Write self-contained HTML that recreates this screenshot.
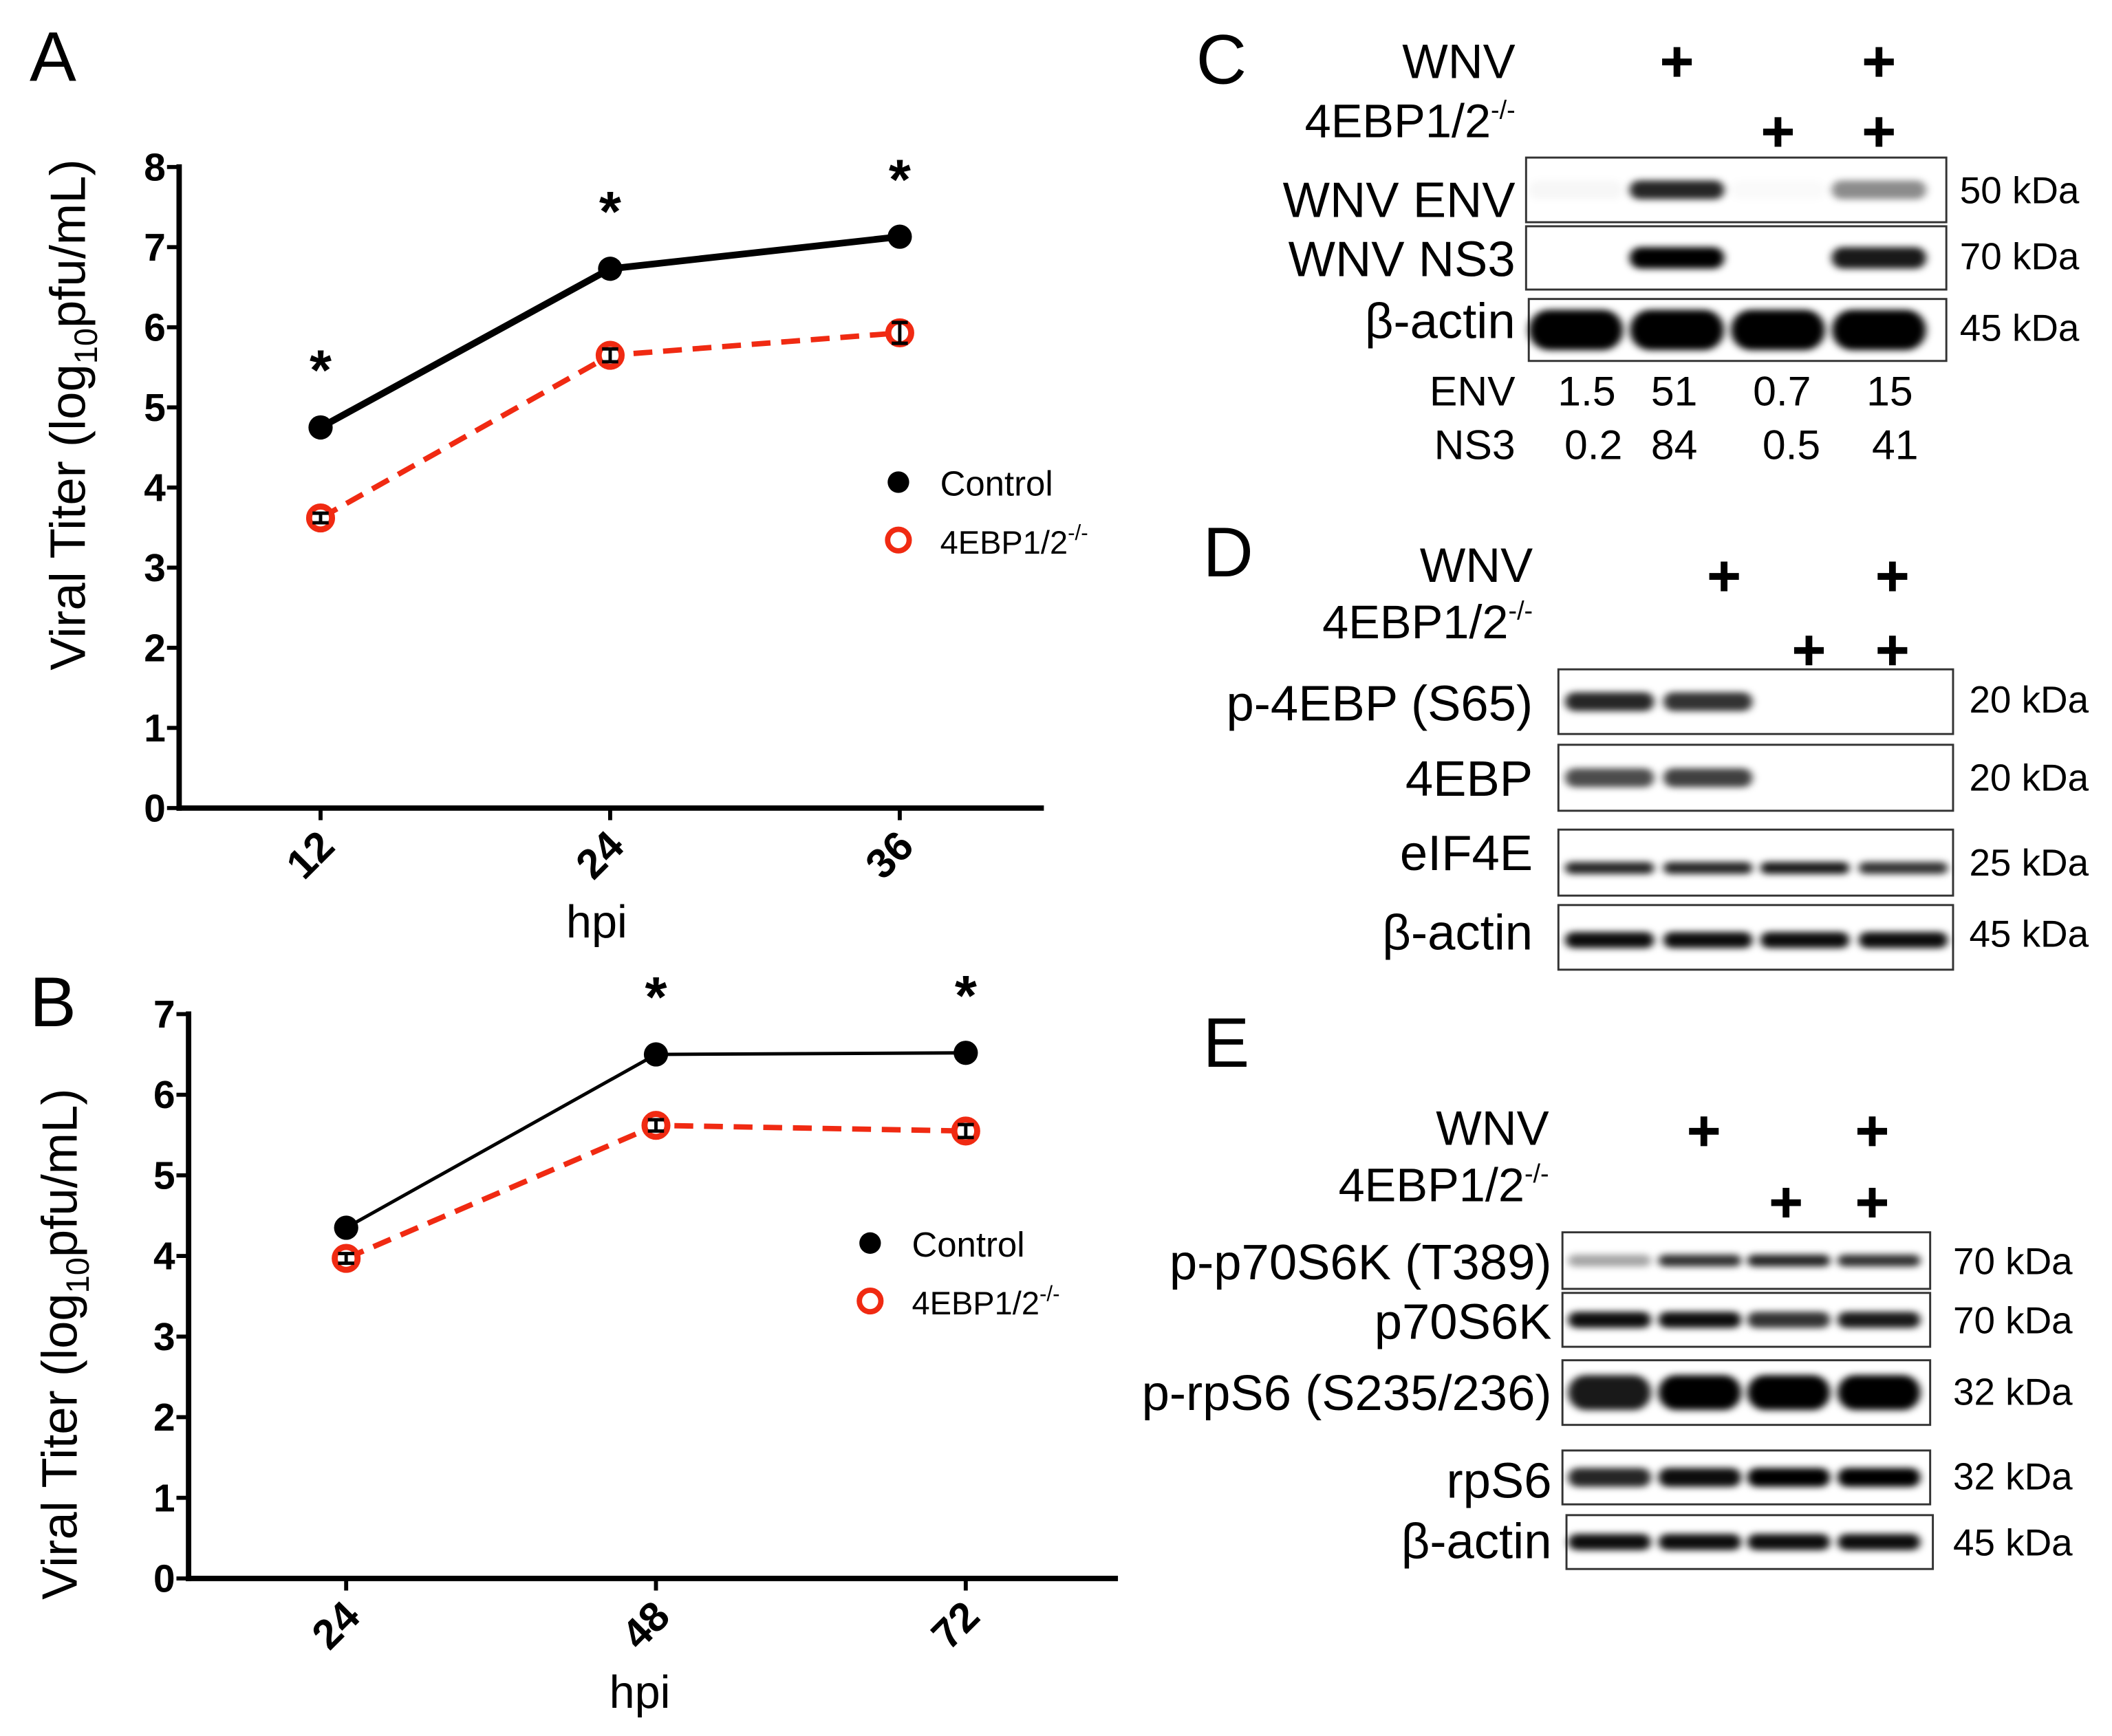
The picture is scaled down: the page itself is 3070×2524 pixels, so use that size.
<!DOCTYPE html>
<html><head><meta charset="utf-8"><style>
html,body{margin:0;padding:0;background:#fff}
svg{display:block}
text{font-family:"Liberation Sans",Arial,sans-serif}
</style></head><body>
<svg id="fig" width="3070" height="2524" viewBox="0 0 1568 1289" preserveAspectRatio="none" xmlns="http://www.w3.org/2000/svg">
<defs>
<filter id="blur" x="-20%" y="-100%" width="140%" height="300%"><feGaussianBlur stdDeviation="3 2.5"/></filter>
</defs>
<rect width="1568" height="1289" fill="#fff"/>
<g id="panelA"></g>
<g id="panelB"></g>
<g id="blots"></g>
</svg>
<script>
const NS="http://www.w3.org/2000/svg";
function mk(tag,attrs,parent,txt){const e=document.createElementNS(NS,tag);for(const k in attrs)e.setAttribute(k,attrs[k]);if(txt!==undefined)e.textContent=txt;parent.appendChild(e);return e;}

// ---- Panel A data ----
const aCategories=["12","24","36"];
const aControl=[4.75,6.73,7.13];
const aControlErr=[0.08,0.08,0.07];
const aKO=[3.62,5.65,5.93];
const aKOErr=[0.06,0.08,0.13];
const aTicks=[0,1,2,3,4,5,6,7,8];
const aSig=[true,true,true];
// ---- Panel B data ----
const bCategories=["24","48","72"];
const bControl=[4.35,6.5,6.52];
const bControlErr=[0.08,0.09,0.04];
const bKO=[3.97,5.62,5.55];
const bKOErr=[0.06,0.07,0.08];
const bTicks=[0,1,2,3,4,5,6,7];
const bSig=[false,true,true];

function chart(g,cfg){
  const ys=v=>cfg.y0-(v-0)*(cfg.y0-cfg.yTop)/cfg.yMax;
  const xs=i=>cfg.xFirst+i*cfg.xStep;
  let l=mk('line',{x1:cfg.axX,y1:cfg.yTop-2,x2:cfg.axX,y2:cfg.y0+2,stroke:'#000','stroke-width':4},g);
  
  l=mk('line',{x1:cfg.axX-2,y1:cfg.y0,x2:cfg.xEnd,y2:cfg.y0,stroke:'#000','stroke-width':4},g);
  
  cfg.ticks.forEach(t=>{
    mk('line',{x1:cfg.axX-9,y1:ys(t),x2:cfg.axX,y2:ys(t),stroke:'#000','stroke-width':3},g);
    const tl=mk('text',{x:cfg.axX-10,y:ys(t)+10,'text-anchor':'end','font-size':29,'font-weight':'bold'},g,String(t));
    
  });
  cfg.cats.forEach((c,i)=>{
    mk('line',{x1:xs(i),y1:cfg.y0,x2:xs(i),y2:cfg.y0+9,stroke:'#000','stroke-width':3},g);
    const tl=mk('text',{x:xs(i)+12,y:cfg.y0+30,'text-anchor':'end','font-size':31,'font-weight':'bold',transform:`rotate(-45 ${xs(i)+12} ${cfg.y0+30})`},g,c);
    
  });
  const ht=mk('text',{x:cfg.hpiX,y:cfg.y0+96,'text-anchor':'middle','font-size':34},g,'hpi');
  
  const yt=mk('text',{x:0,y:0,'text-anchor':'middle','font-size':37,transform:`translate(${cfg.titleX},${cfg.titleY}) rotate(-90)`},g);
  
  mk('tspan',{},yt,'Viral Titer (log');mk('tspan',{'font-size':24,dy:9},yt,'10');mk('tspan',{dy:-9},yt,'pfu/mL)');
  function series(vals,errs,color,dash,width,filled,name){
    const pts=vals.map((v,i)=>`${xs(i)},${ys(v)}`).join(' ');
    const pl=mk('polyline',{points:pts,fill:'none',stroke:color,'stroke-width':width,'stroke-dasharray':dash},g);
    
    vals.forEach((v,i)=>{
      const c=filled?mk('circle',{cx:xs(i),cy:ys(v),r:9,fill:color},g):mk('circle',{cx:xs(i),cy:ys(v),r:8.5,fill:'#fff',stroke:color,'stroke-width':4.5},g);
      
      const e=errs[i],x=xs(i);
      mk('path',{d:`M${x},${ys(v+e)}V${ys(v-e)}M${x-6},${ys(v+e)}h12M${x-6},${ys(v-e)}h12`,stroke:'#000','stroke-width':2.5,fill:'none'},g);
    });
  }
  series(cfg.ctrl,cfg.ctrlErr,'#000','none',cfg.ctrlW,true,'control');
  series(cfg.ko,cfg.koErr,'#f02a12','14 8',4,false,'knockout');
  cfg.sig.forEach((s,i)=>{ if(!s)return;
    const st=mk('text',{x:xs(i),y:ys(Math.max(cfg.ctrl[i],cfg.ko[i]))-28,'text-anchor':'middle','font-size':42,'font-weight':'bold'},g,'*');
    
  });
  let le=mk('g',{},g);
  mk('circle',{cx:cfg.legX,cy:cfg.legY,r:8,fill:'#000'},le);
  mk('text',{x:cfg.legX+31,y:cfg.legY+10,'font-size':26},le,'Control');
  le=mk('g',{},g);
  mk('circle',{cx:cfg.legX,cy:cfg.legY+43,r:8,fill:'#fff',stroke:'#f02a12','stroke-width':4},le);
  const lt=mk('text',{x:cfg.legX+31,y:cfg.legY+53,'font-size':24},le,'4EBP1/2');
  mk('tspan',{'font-size':16,dy:-10},lt,'-/-');
}
const A=document.getElementById('panelA'),B=document.getElementById('panelB');
let t=mk('text',{x:22,y:60,'font-size':52},A,'A');
chart(A,{axX:133,y0:600,yTop:124,yMax:8,xFirst:238,xStep:215,xEnd:775,ticks:aTicks,cats:aCategories,ctrl:aControl,ctrlErr:aControlErr,ko:aKO,koErr:aKOErr,sig:aSig,ctrlW:5,legX:667,legY:358,hpiX:443,titleX:63,titleY:308});
t=mk('text',{x:22,y:762,'font-size':52},B,'B');
chart(B,{axX:140,y0:1172,yTop:753,yMax:7,xFirst:257,xStep:230,xEnd:830,ticks:bTicks,cats:bCategories,ctrl:bControl,ctrlErr:bControlErr,ko:bKO,koErr:bKOErr,sig:bSig,ctrlW:2.5,legX:646,legY:923,hpiX:475,titleX:57,titleY:998});

// ---- Blots ----
const BL=document.getElementById('blots');
function txt(x,y,s,size,anchor,name,sup){const e=mk('text',{x:x,y:y,'font-size':size,'text-anchor':anchor||'start'},BL,s);if(sup){mk('tspan',{'font-size':size*0.55,dy:-size*0.4},e,sup);}return e;}
function plus(x,y,name){const e=mk('path',{d:`M${x-11},${y}h22M${x},${y-11}v22`,stroke:'#000','stroke-width':5},BL);}
function blot(x1,x2,y1,y2,lanes,intens,thick,name,extra){
  const g=mk('g',{},BL);
  mk('rect',{x:x1,y:y1,width:x2-x1,height:y2-y1,fill:'#fff',stroke:'#333','stroke-width':1.5},g);
  const cy=(y1+y2)/2+(extra||0);const lw=(x2-x1)/4;
  intens.forEach((v,i)=>{ if(v<=0)return;
    mk('rect',{x:lanes[i]-lw*0.45,y:cy-thick/2,width:lw*0.9,height:thick,rx:thick/2,fill:'#000','fill-opacity':v,filter:'url(#blur)'},g);
  });
}
// C
txt(888,62,'C',52,'start','panel-label-c');
txt(1125,58,'WNV',36,'end','wnv-row-label');
txt(1125,102,'4EBP1/2',35,'end','knockout-row-label','-/-');
[1245,1395].forEach(x=>plus(x,46,'wnv-plus'));[1320,1395].forEach(x=>plus(x,98,'knockout-plus'));
const cLanes=[1170,1245,1320,1395];
const cEnv=[0.03,0.85,0.02,0.45],cNs3=[0,1,0,0.9],cAct=[1,1,1,1];
blot(1133,1445,117,165,cLanes,cEnv,14,'blot-wnv-env');
blot(1133,1445,168,215,cLanes,cNs3,16,'blot-wnv-ns3');
blot(1135,1445,222,268,cLanes,cAct,30,'blot-c-actin');
txt(1125,161,'WNV ENV',37,'end','label-wnv-env');txt(1125,205,'WNV NS3',37,'end','label-wnv-ns3');txt(1125,251,'β-actin',37,'end','label-c-actin');
txt(1455,151,'50 kDa',28,'start','kda');txt(1455,200,'70 kDa',28,'start','kda');txt(1455,253,'45 kDa',28,'start','kda');
const envVals=['1.5','51','0.7','15'],ns3Vals=['0.2','84','0.5','41'];
txt(1125,301,'ENV',31,'end','quant-env-label');txt(1125,341,'NS3',31,'end','quant-ns3-label');
[1178,1243,1323,1403].forEach((x,i)=>txt(x,301,envVals[i],31,'middle','quant-env-value'));
[1183,1243,1330,1407].forEach((x,i)=>txt(x,341,ns3Vals[i],31,'middle','quant-ns3-value'));
// D
txt(893,428,'D',52,'start','panel-label-d');
txt(1138,432,'WNV',36,'end','wnv-row-label');
txt(1138,474,'4EBP1/2',35,'end','knockout-row-label','-/-');
[1280,1405].forEach(x=>plus(x,428,'wnv-plus'));[1343,1405].forEach(x=>plus(x,483,'knockout-plus'));
const dLanes=[1195,1268,1340,1413];
blot(1157,1450,497,545,dLanes,[0.85,0.8,0,0],14,'blot-p-4ebp');
blot(1157,1450,553,602,dLanes,[0.7,0.75,0,0],14,'blot-4ebp');
blot(1157,1450,616,665,dLanes,[0.85,0.85,0.9,0.8],9,'blot-eif4e',4);
blot(1157,1450,672,720,dLanes,[0.95,0.95,0.95,0.95],12,'blot-d-actin',2);
txt(1138,535,'p-4EBP (S65)',37,'end','label-p-4ebp');txt(1138,591,'4EBP',37,'end','label-4ebp');txt(1138,646,'eIF4E',37,'end','label-eif4e');txt(1138,705,'β-actin',37,'end','label-d-actin');
[[529,'20 kDa'],[587,'20 kDa'],[650,'25 kDa'],[703,'45 kDa']].forEach(a=>txt(1462,a[0],a[1],28,'start','kda'));
// E
txt(893,792,'E',52,'start','panel-label-e');
txt(1150,850,'WNV',36,'end','wnv-row-label');
txt(1150,892,'4EBP1/2',35,'end','knockout-row-label','-/-');
[1265,1390].forEach(x=>plus(x,840,'wnv-plus'));[1326,1390].forEach(x=>plus(x,893,'knockout-plus'));
const eLanes=[1195,1262,1328,1395];
blot(1160,1433,915,957,eLanes,[0.35,0.8,0.85,0.8],9,'blot-p-p70s6k');
blot(1160,1433,960,1000,eLanes,[0.95,0.95,0.8,0.9],12,'blot-p70s6k');
blot(1160,1433,1010,1058,eLanes,[0.9,1,1,1],26,'blot-p-rps6');
blot(1160,1433,1077,1117,eLanes,[0.85,0.95,1,1],14,'blot-rps6');
blot(1163,1435,1125,1165,eLanes,[0.95,0.95,0.95,0.95],12,'blot-e-actin');
txt(1152,950,'p-p70S6K (T389)',37,'end','label-p-p70s6k');txt(1152,994,'p70S6K',37,'end','label-p70s6k');txt(1152,1047,'p-rpS6 (S235/236)',37,'end','label-p-rps6');txt(1152,1112,'rpS6',37,'end','label-rps6');txt(1152,1157,'β-actin',37,'end','label-e-actin');
[[946,'70 kDa'],[990,'70 kDa'],[1043,'32 kDa'],[1106,'32 kDa'],[1155,'45 kDa']].forEach(a=>txt(1450,a[0],a[1],28,'start','kda'));
</script>
</body></html>
